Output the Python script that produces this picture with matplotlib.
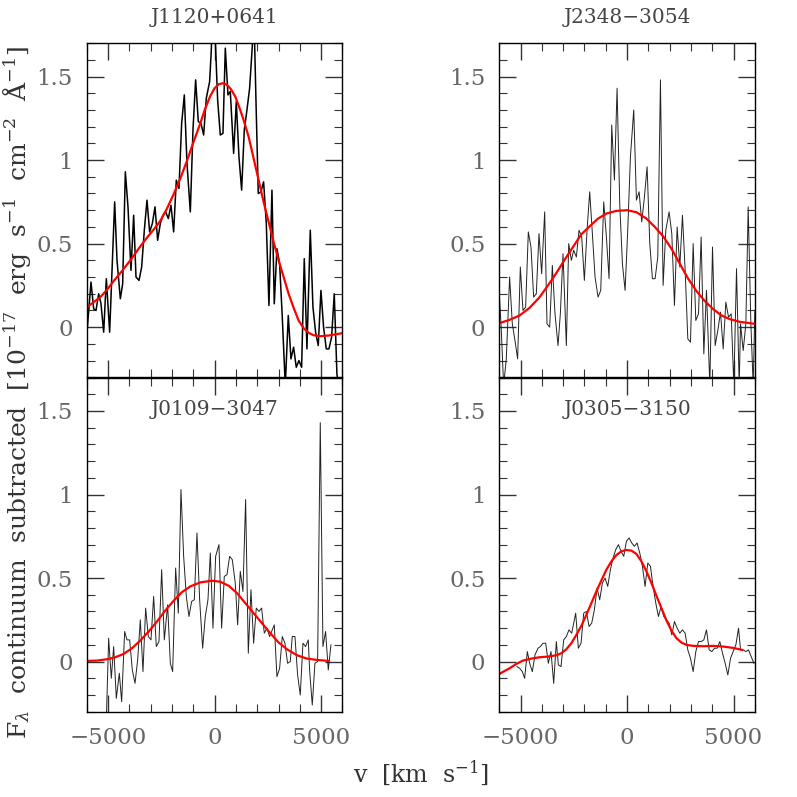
import matplotlib
matplotlib.use("Agg")
import matplotlib.pyplot as plt
from matplotlib.ticker import MultipleLocator, FuncFormatter

# --- J1120+0641 ---
v_1120 = [-6000, -5806, -5681, -5571, -5446, -5337, -5211, -5086, -4930, -4695, -4585, -4429,
          -4319, -4194, -4069, -3928, -3803, -3693, -3552, -3427, -3302, -3177, -3052, -2926,
          -2801, -2676, -2551, -2426, -2301, -2175, -2050, -1925, -1800, -1675, -1549, -1424,
          -1299, -1142, -1017, -892, -767, -642, -516, -391, -235, -156, -78, 31, 141, 266,
          391, 501, 626, 736, 892, 1017, 1142, 1268, 1393, 1518, 1643, 1768, 1831, 1956, 2050,
          2175, 2300, 2426, 2551, 2692, 2801, 2926, 3052, 3177, 3318, 3459, 3584, 3709, 3834,
          3959, 4085, 4210, 4335, 4492, 4617, 4742, 4867, 4992, 5117, 5243, 5368, 5493, 5618,
          5743, 5869]
f_1120 = [-0.04, 0.27, 0.11, 0.10, 0.20, 0.14, -0.03, 0.29, -0.03, 0.75, 0.40, 0.17,
          0.26, 0.93, 0.72, 0.34, 0.67, 0.30, 0.28, 0.36, 0.58, 0.76, 0.57, 0.62,
          0.72, 0.52, 0.62, 0.67, 0.69, 0.65, 0.73, 0.57, 0.88, 0.83, 1.22, 1.39,
          0.98, 0.69, 1.18, 1.48, 1.23, 1.22, 1.15, 1.37, 1.47, 1.66, 1.95, 1.72, 1.36, 1.15,
          1.16, 1.67, 1.39, 1.41, 1.04, 1.35, 1.02, 0.82, 1.18, 1.30, 1.43, 1.68, 1.95, 1.28, 0.80,
          0.81, 0.87, 0.62, 0.13, 0.82, 0.14, 0.47, 0.38, 0.06, -0.35, 0.07, -0.19, -0.12, -0.24,
          -0.20, -0.24, 0.41, -0.13, 0.58, 0.12, -0.03, -0.11, 0.22, 0.00, -0.13, -0.13, -0.06, 0.20,
          -0.28, -0.40]
vfit_1120 = [-5994, -5681, -5368, -5055, -4742, -4351, -3959, -3568, -3177, -2864, -2551,
             -2238, -1925, -1612, -1299, -986, -673, -438, -203, 0, 188, 391, 579, 767, 970,
             1174, 1362, 1596, 1831, 2066, 2300, 2535, 2770, 3005, 3240, 3474, 3709, 3944,
             4178, 4413, 4648, 4961, 5352, 5994]
ffit_1120 = [0.12, 0.15, 0.18, 0.224, 0.276, 0.336, 0.40, 0.47, 0.536, 0.584, 0.636,
             0.71, 0.796, 0.89, 0.996, 1.11, 1.22, 1.31, 1.384, 1.43, 1.454, 1.46, 1.45, 1.424, 1.38,
             1.31, 1.24, 1.14, 1.01, 0.88, 0.75, 0.63, 0.51, 0.40, 0.30, 0.20, 0.116, 0.04,
             -0.006, -0.034, -0.048, -0.054, -0.05, -0.036]

# --- J2348-3054 ---
v_2348 = [-6000, -5907, -5798, -5673, -5516, -5390, -5265, -5140, -5014, -4889, -4764, -4638,
          -4513, -4388, -4262, -4137, -4012, -3870, -3761, -3635, -3510, -3385, -3244, -3134,
          -3009, -2852, -2742, -2617, -2507, -2382, -2256, -2131, -2006, -1880, -1755, -1630,
          -1504, -1363, -1238, -1097, -972, -846, -721, -595, -470, -345, -219, -94, 31, 157,
          313, 439, 564, 689, 815, 940, 1066, 1191, 1316, 1442, 1567, 1692, 1818, 1974, 2100,
          2225, 2351, 2476, 2601, 2727, 2852, 2977, 3103, 3228, 3354, 3479, 3604, 3729, 3886,
          4012, 4137, 4262, 4388, 4513, 4638, 4764, 4889, 5014, 5140, 5265, 5328, 5453, 5578,
          5688, 5814, 5923, 6000]
f_2348 = [0.20, -0.02, -0.35, -0.19, 0.30, 0.02, -0.08, -0.19, 0.36, 0.10, 0.12, 0.57,
          0.48, 0.18, 0.20, 0.56, 0.32, 0.69, 0.02, 0.00, 0.37, 0.08, -0.11, 0.08,
          0.44, -0.11, 0.50, 0.40, 0.46, 0.42, 0.58, 0.54, 0.28, 0.58, 0.81, 0.56,
          0.30, 0.18, 0.22, 0.75, 0.54, 0.29, 1.21, 0.88, 1.43, 0.74, 0.38, 0.22, 0.58, 1.02,
          1.30, 0.76, 0.81, 0.63, 0.78, 0.96, 0.50, 0.29, 0.29, 0.42, 1.48, 0.25, 0.58, 0.69, 0.56,
          0.13, 0.60, 0.36, 0.67, 0.34, -0.07, -0.09, 0.50, 0.04, 0.08, 0.54, -0.16, 0.22, -0.35,
          0.48, -0.11, -0.02, 0.09, -0.13, 0.15, 0.06, 0.08, -0.35, 0.35, -0.35, 0.02, -0.14, 0.02,
          0.72, 0.02, -0.35, 0.10]
vfit_2348 = [-6000, -5516, -5046, -4576, -4106, -3714, -3322, -2930, -2539, -2147, -1755,
             -1363, -972, -501, 0, 439, 909, 1301, 1692, 2084, 2476, 2868, 3259, 3651, 4043,
             4435, 4826, 5296, 6000]
ffit_2348 = [0.024, 0.044, 0.07, 0.116, 0.18, 0.25, 0.324, 0.404, 0.48, 0.556, 0.604,
             0.65, 0.68, 0.696, 0.70, 0.688, 0.65, 0.60, 0.544, 0.47, 0.38, 0.29, 0.216, 0.156, 0.108,
             0.07, 0.048, 0.032, 0.02]

# --- J0109-3047 ---
v_0109 = [-5086, -4977, -4852, -4742, -4617, -4476, -4366, -4226, -4116, -3991, -3866, -3740,
          -3615, -3490, -3365, -3240, -3114, -2989, -2864, -2739, -2614, -2488, -2363, -2207,
          -2081, -1972, -1831, -1706, -1581, -1455, -1330, -1205, -1080, -955, -829, -704,
          -563, -438, -313, -203, -78, 47, 203, 329, 454, 579, 704, 829, 970, 1080, 1205,
          1330, 1455, 1581, 1706, 1831, 1956, 2081, 2207, 2332, 2457, 2582, 2707, 2801, 2926,
          3052, 3177, 3302, 3427, 3553, 3646, 3772, 3897, 4022, 4147, 4272, 4398, 4460, 4585,
          4711, 4836, 4961, 5086, 5211, 5337, 5462]
f_0109 = [-0.35, 0.14, -0.10, 0.09, -0.22, -0.07, -0.24, 0.18, 0.13, 0.13, -0.05, -0.13,
          0.01, 0.25, -0.06, 0.32, 0.15, 0.13, 0.39, 0.09, 0.12, 0.55, 0.13, 0.34,
          -0.01, -0.06, 0.56, 0.29, 1.03, 0.63, 0.39, 0.27, 0.36, 0.37, 0.77, 0.37,
          0.08, 0.27, 0.37, 0.65, 0.20, 0.63, 0.70, 0.20, 0.51, 0.52, 0.63, 0.61, 0.47, 0.22, 0.54,
          0.42, 0.97, 0.05, 0.43, 0.11, 0.32, 0.30, 0.32, 0.17, 0.20, 0.15, 0.19, 0.22, -0.09,
          -0.04, 0.15, 0.11, -0.01, 0.00, 0.15, 0.15, -0.08, -0.20, 0.11, 0.09, 0.13, -0.05, -0.26,
          -0.01, 0.00, 1.43, 0.09, 0.18, -0.05, 0.10]
vfit_0109 = [-5994, -5524, -5055, -4664, -4272, -3881, -3490, -3099, -2707, -2316, -1925,
             -1534, -1142, -673, -125, 266, 657, 1049, 1440, 1831, 2222, 2614, 3005, 3396,
             3866, 4335, 4804, 5352]
ffit_0109 = [0.004, 0.006, 0.014, 0.026, 0.046, 0.08, 0.126, 0.18, 0.24, 0.306, 0.364,
             0.416, 0.45, 0.474, 0.484, 0.478, 0.454, 0.41, 0.35, 0.29, 0.23, 0.17, 0.114, 0.074,
             0.038, 0.018, 0.01, 0.004]

# --- J0305-3150 ---
v_0305 = [-5171, -5046, -4920, -4811, -4685, -4576, -4450, -4325, -4184, -4074, -3949, -3823,
          -3698, -3573, -3447, -3322, -3228, -3103, -2977, -2852, -2727, -2601, -2507, -2413,
          -2288, -2162, -2037, -1912, -1786, -1661, -1536, -1410, -1285, -1160, -1034, -909,
          -783, -658, -533, -407, -282, -157, -31, 94, 219, 345, 470, 595, 721, 846, 972,
          1097, 1222, 1348, 1473, 1598, 1724, 1849, 1974, 2100, 2225, 2351, 2476, 2601, 2727,
          2852, 2977, 3103, 3228, 3354, 3479, 3604, 3729, 3855, 3980, 4106, 4231, 4356, 4482,
          4607, 4732, 4858, 4983, 5109, 5234, 5328, 5453, 5578, 5704, 5829, 5955]
f_0305 = [-0.03, -0.04, -0.06, -0.10, 0.06, -0.01, -0.06, 0.04, 0.08, 0.09, 0.11, 0.11,
          -0.01, 0.06, -0.13, 0.12, -0.02, -0.03, 0.13, 0.15, 0.19, 0.17, 0.23, 0.29,
          0.08, 0.11, 0.29, 0.30, 0.21, 0.23, 0.31, 0.44, 0.37, 0.47, 0.50, 0.45,
          0.55, 0.62, 0.67, 0.70, 0.66, 0.63, 0.72, 0.74, 0.71, 0.69, 0.71, 0.65, 0.57, 0.45, 0.59,
          0.57, 0.45, 0.35, 0.27, 0.33, 0.27, 0.25, 0.23, 0.16, 0.24, 0.20, 0.17, 0.19, 0.17,
          0.07, 0.02, -0.06, 0.06, 0.12, 0.12, 0.13, 0.19, 0.07, 0.06, 0.08, 0.08, 0.12, 0.05,
          -0.01, -0.08, 0.02, 0.06, 0.10, 0.20, 0.07, 0.07, 0.06, 0.07, 0.03, -0.01]
vfit_0305 = [-6000, -5751, -5516, -5202, -4889, -4497, -4106, -3714, -3322, -3087, -2852,
             -2617, -2382, -2147, -1912, -1677, -1442, -1207, -972, -736, -501, -266, -31,
             204, 439, 674, 909, 1144, 1379, 1614, 1849, 2084, 2319, 2554, 2789, 3103, 3573,
             4043, 4513, 4983, 5406]
ffit_0305 = [-0.074, -0.056, -0.04, -0.014, 0.006, 0.018, 0.026, 0.03, 0.038, 0.05, 0.074,
             0.11, 0.16, 0.214, 0.28, 0.35, 0.42, 0.486, 0.55, 0.60, 0.638, 0.66, 0.668,
             0.664, 0.644, 0.60, 0.54, 0.47, 0.394, 0.32, 0.246, 0.186, 0.14, 0.114, 0.10, 0.094, 0.092,
             0.094, 0.09, 0.082, 0.07]

names = ["J1120+0641", "J2348\u22123054", "J0109\u22123047", "J0305\u22123150"]


def fmt(val, pos):
    s = "%g" % val
    return s.replace("-", "\u2212")


def main():
    plt.rcParams["font.family"] = ["DejaVu Serif"]
    plt.rcParams["mathtext.fontset"] = "dejavuserif"
    fig = plt.figure(figsize=(7.97, 7.97), dpi=100)

    left = [0.109, 0.6265, 0.109, 0.6265]
    bottom = [0.5266, 0.5266, 0.107, 0.107]
    w, h = 0.3206, 0.4193
    data = [(v_1120, f_1120, vfit_1120, ffit_1120),
            (v_2348, f_2348, vfit_2348, ffit_2348),
            (v_0109, f_0109, vfit_0109, ffit_0109),
            (v_0305, f_0305, vfit_0305, ffit_0305)]

    for i in range(4):
        ax = fig.add_axes([left[i], bottom[i], w, h])
        v, f, vf, ff = data[i]
        # spectrum + fitted profile
        if i == 0:
            ax.plot(v, f, color="black", lw=1.1)
        else:
            ax.plot(v, f, color="#222222", lw=0.7)
        ax.plot(vf, ff, color="red", lw=1.6)
        ax.set_xlim(-6000, 6000)
        ax.set_ylim(-0.3, 1.7)
        ax.xaxis.set_major_locator(MultipleLocator(5000))
        ax.xaxis.set_minor_locator(MultipleLocator(1000))
        ax.yaxis.set_major_locator(MultipleLocator(0.5))
        ax.yaxis.set_minor_locator(MultipleLocator(0.1))
        ax.xaxis.set_major_formatter(FuncFormatter(fmt))
        ax.yaxis.set_major_formatter(FuncFormatter(fmt))
        ax.tick_params(which="both", direction="in", top=True, right=True, color="#333333",
                       labelcolor="#666666", labelsize=16.5)
        ax.tick_params(which="major", length=12, width=1.0)
        ax.tick_params(which="minor", length=6, width=0.8)
        ax.tick_params(axis="y", pad=10)
        ax.tick_params(axis="x", pad=11)
        if i < 2:
            ax.tick_params(axis="x", labelbottom=False)
        for sp in ax.spines.values():
            sp.set_linewidth(1.0)
        ty = 1.076 if i < 2 else 0.903
        ax.text(0.5, ty, names[i], transform=ax.transAxes, ha="center", va="center",
                fontsize=14.5, color="#444444", clip_on=False)

    fig.text(0.021, 0.508,
             r"F$_\lambda$  continuum  subtracted  [10$^{-17}$  erg  s$^{-1}$  cm$^{-2}$  $\mathrm{\AA}^{-1}$]",
             rotation=90, ha="center", va="center", fontsize=18, color="#333333")
    fig.text(0.528, 0.031, r"v  [km  s$^{-1}$]", ha="center", va="center", fontsize=17,
             color="#333333")

    fig.savefig("out.png", dpi=100)


if __name__ == '__main__':
    main()
